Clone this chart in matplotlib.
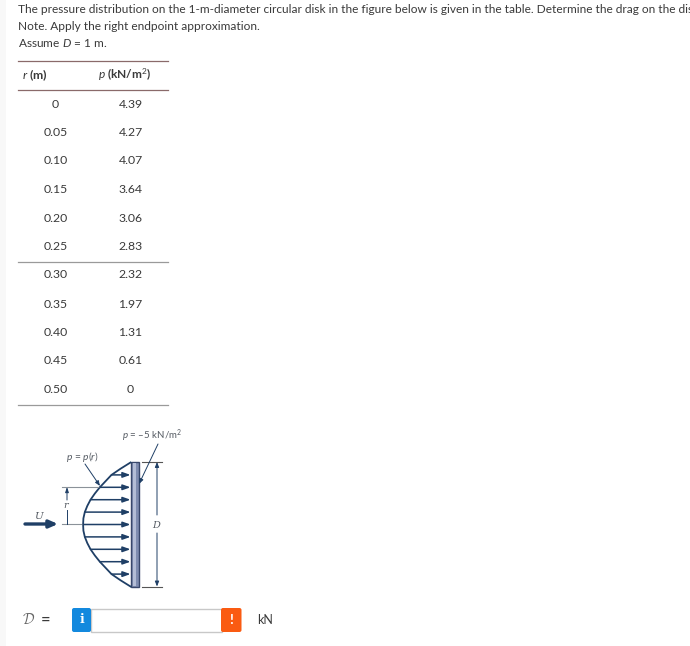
# plot.py
# Question page with pressure table and disk sketch, drawn in pixel coordinates

import matplotlib
matplotlib.use('Agg')
import matplotlib.pyplot as plt
from matplotlib.patches import FancyBboxPatch, Rectangle

plt.rcParams['font.family'] = ['Lato', 'DejaVu Sans']
plt.rcParams['mathtext.fontset'] = 'custom'
plt.rcParams['mathtext.rm'] = 'Lato'
plt.rcParams['mathtext.it'] = 'Lato:italic'

question_lines = [
    "The pressure distribution on the 1-m-diameter circular disk in the figure below is given in the table. Determine the drag on the disk.",
    "Note. Apply the right endpoint approximation.",
    r"Assume $\mathit{D}$ = 1 m.",
]
r_labels = ["0", "0.05", "0.10", "0.15", "0.20", "0.25", "0.30", "0.35", "0.40", "0.45", "0.50"]
p_labels = ["4.39", "4.27", "4.07", "3.64", "3.06", "2.83", "2.32", "1.97", "1.31", "0.61", "0"]

# sketch profile: distance from centre (m), arrow length (kN/m2)
profile_r = [0, 0.05, 0.10, 0.15, 0.20, 0.25, 0.30, 0.35, 0.40, 0.45, 0.50]
profile_p = [4.39, 4.36, 4.23, 4.00, 3.70, 3.30, 2.84, 2.30, 1.76, 0.92, 0]
arrow_r = [-0.40, -0.30, -0.20, -0.10, 0, 0.10, 0.20, 0.30, 0.40]
arrow_p = [1.76, 2.84, 3.70, 4.23, 4.39, 4.23, 3.70, 2.84, 1.76]

TEXT = '#3a3a3a'
NAVY = '#1f3f66'
GREY = '#555b63'

fig = plt.figure(figsize=(6.9, 6.46), dpi=100)
ax = fig.add_axes([0, 0, 1, 1])
ax.set_xlim(0, 690)
ax.set_ylim(646, 0)
ax.axis('off')

# pale strip down the left side of the page
ax.add_patch(Rectangle((0, 0), 6, 646, color='#f8f8f8', lw=0))

for y, line in zip([9.5, 26.5, 43], question_lines):
    ax.text(18.5, y, line, fontsize=8.55, color=TEXT, va='center', ha='left', clip_on=True)

# table
for y in [61, 90, 262, 405]:
    ax.plot([18, 168], [y, y], color='#8a6a6a' if y < 100 else '#9a9a9a', lw=0.9)
ax.text(35, 75.5, r"$\mathit{r}$ (m)", fontsize=8.8, color=TEXT, ha='center', va='center', weight='bold')
ax.text(125, 75, r"$\mathit{p}$ (kN/m$^2$)", fontsize=8.6, color=TEXT, ha='center', va='center', weight='bold')
row_y = [104, 132.5, 161, 189.5, 218, 246.5, 275, 304, 332.5, 361, 389.5]
for y, rv, pv in zip(row_y, r_labels, p_labels):
    ax.text(55.5, y, rv, fontsize=8.8, color=TEXT, ha='center', va='center')
    ax.text(130.5, y, pv, fontsize=8.8, color=TEXT, ha='center', va='center')

# disk sketch: 124 px per metre across, 10.8 px per kN/m2 along
yc, xp = 524.5, 130.5
sy, sx = 124.0, 10.8


def to_px(r, p):
    return xp - sx * p, yc - sy * r


curve = [to_px(-r, p) for r, p in zip(profile_r[::-1], profile_p[::-1])]
curve += [to_px(r, p) for r, p in zip(profile_r[1:], profile_p[1:])]
ax.plot([c[0] for c in curve], [c[1] for c in curve], color=NAVY, lw=1.3, solid_joinstyle='round')

plate = Rectangle((131, 462), 7.5, 125, facecolor='#7f8cb0', edgecolor='#39476b', lw=1.0)
ax.add_patch(plate)
ax.add_patch(Rectangle((133.2, 463), 3, 123, facecolor='#b4bdd6', lw=0))

for r, p in zip(arrow_r, arrow_p):
    x0, y0 = to_px(r, p)
    ax.annotate('', xy=(xp, y0), xytext=(x0, y0),
                arrowprops=dict(arrowstyle='-|>,head_length=0.45,head_width=0.16', color=NAVY, lw=1.1,
                                shrinkA=0, shrinkB=0))

# flow arrow
ax.annotate('', xy=(58, 524), xytext=(25, 524),
            arrowprops=dict(arrowstyle='-|>,head_length=0.5,head_width=0.22', color=NAVY, lw=2.4,
                            shrinkA=0, shrinkB=0))
ax.text(38, 516.5, 'U', fontsize=7.5, family='DejaVu Serif', style='italic', color=GREY, ha='center', va='center')

# r dimension
ax.plot([62, 101], [486.5, 486.5], color='#8b9299', lw=0.8)
ax.plot([62, 84], [524, 524], color='#8b9299', lw=0.8)
ax.annotate('', xy=(67, 487), xytext=(67, 500),
            arrowprops=dict(arrowstyle='-|>,head_length=0.3,head_width=0.1', color=NAVY, lw=0.7, shrinkA=0, shrinkB=0))
ax.plot([67, 67], [510, 524], color=NAVY, lw=0.7)
ax.text(66, 505, 'r', fontsize=7, family='DejaVu Serif', style='italic', color=GREY, ha='center', va='center')

# D dimension
ax.plot([142, 162], [462, 462], color='#555555', lw=0.8)
ax.plot([142, 162], [586.5, 586.5], color='#555555', lw=0.8)
ax.annotate('', xy=(157, 462), xytext=(157, 515),
            arrowprops=dict(arrowstyle='-|>,head_length=0.3,head_width=0.12', color=NAVY, lw=0.7, shrinkA=0, shrinkB=0))
ax.annotate('', xy=(157, 586.5), xytext=(157, 533),
            arrowprops=dict(arrowstyle='-|>,head_length=0.3,head_width=0.12', color=NAVY, lw=0.7, shrinkA=0, shrinkB=0))
ax.text(156, 525, 'D', fontsize=7, family='DejaVu Serif', style='italic', color=GREY, ha='center', va='center')

# sketch labels and leaders
ax.text(122, 436, r"$\mathit{p}$ = –5 kN/m$^2$", fontsize=7, color=GREY, ha='left', va='center')
ax.text(82.5, 457, r"$\mathit{p}$ = $\mathit{p}$($\mathit{r}$)", fontsize=7.4, color=GREY, ha='center', va='center')
ax.annotate('', xy=(139, 484), xytext=(158, 444),
            arrowprops=dict(arrowstyle='-|>,head_length=0.3,head_width=0.12', color=NAVY, lw=0.7, shrinkA=0, shrinkB=0))
ax.annotate('', xy=(100, 486), xytext=(85, 464),
            arrowprops=dict(arrowstyle='-|>,head_length=0.3,head_width=0.12', color=NAVY, lw=0.7, shrinkA=0, shrinkB=0))

# answer row
ax.text(29, 620, r"$\mathcal{D}$", fontsize=10.5, color='#666666', ha='center', va='center', math_fontfamily='cm')
ax.text(46, 619.5, "=", fontsize=12, color=TEXT, ha='center', va='center')
ax.add_patch(Rectangle((91, 608.5), 131, 23, facecolor='white', edgecolor='#c8c8c8', lw=1.0))
ax.add_patch(FancyBboxPatch((72, 608), 19, 24, boxstyle='round,pad=0,rounding_size=2', facecolor='#1389de', lw=0))
ax.add_patch(FancyBboxPatch((221, 608), 20.5, 24, boxstyle='round,pad=0,rounding_size=2', facecolor='#fa5b12', lw=0))
ax.text(81.5, 619.5, "i", fontsize=9, color='white', weight='bold', family='DejaVu Serif', ha='center', va='center')
ax.text(231, 619.5, "!", fontsize=10, color='white', weight='bold', ha='center', va='center')
ax.text(265.5, 619.5, "kN", fontsize=9, color=TEXT, ha='center', va='center')

fig.savefig('out.png', dpi=100)
